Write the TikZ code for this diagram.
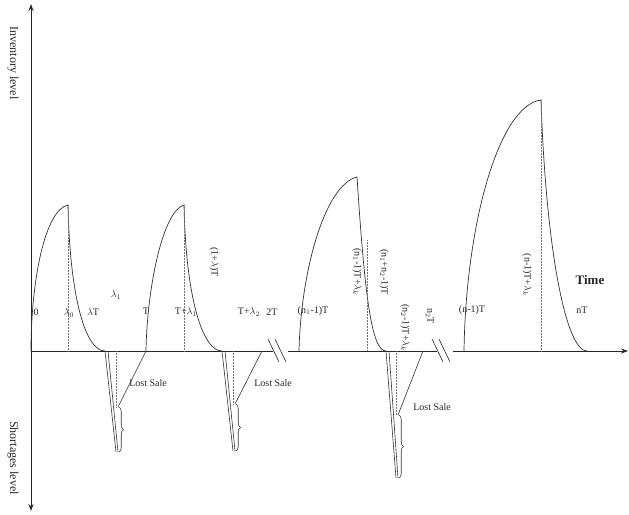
\documentclass[tikz,border=0pt]{standalone}
\usepackage{fontspec}
\setmainfont{Liberation Serif}
\usetikzlibrary{arrows.meta,decorations.pathreplacing}

\begin{document}
\begin{tikzpicture}[x=1pt,y=-1pt,
 every node/.style={font=\fontsize{10}{11}\selectfont,inner sep=0pt,text=black!85},
 curve/.style={black!80,line width=.7pt},
 guide/.style={black!55,densely dotted,line width=.5pt},
 spike/.style={black!80,line width=.6pt},
 brc/.style={black!80,line width=.6pt,decorate,decoration={brace,amplitude=4.5pt}},
 vlab/.style={rotate=-90},
 big/.style={font=\fontsize{12}{13}\selectfont},
 axis/.style={black!85,line width=.8pt}]
 \useasboundingbox (0,0) rectangle (629,514);
 % axes
 \coordinate (top) at (31,4);
 \coordinate (bot) at (31,511);
 \coordinate (o) at (31,351);
 \coordinate (g1a) at (273,351);
 \coordinate (g1b) at (288,351);
 \coordinate (g2a) at (437,351);
 \coordinate (g2b) at (453,351);
 \coordinate (xend) at (628,351);
 \draw[axis,line width=1pt,{Stealth[length=7pt,width=5pt]}-{Stealth[length=7pt,width=5pt]}] (bot) -- (top);
 \draw[axis] (o) -- (g1a) (g1b) -- (g2a);
 \draw[axis,-{Stealth[length=7pt,width=5pt]}] (g2b) -- (xend);
 % breaks
 \draw[axis,line width=.6pt] (268,339) -- (279,362) (275,339) -- (286,362);
 \draw[axis,line width=.6pt] (432,339) -- (443,362) (439,339) -- (450,362);
 % cycles
 \coordinate (s1) at (31,351);  \coordinate (p1) at (68,205);  \coordinate (e1) at (105,351);
 \coordinate (s2) at (146,351); \coordinate (p2) at (184,205); \coordinate (e2) at (222,351);
 \coordinate (s3) at (299,351); \coordinate (p3) at (357,177); \coordinate (e3) at (386,351);
 \coordinate (s4) at (464,351); \coordinate (p4) at (541,100); \coordinate (e4) at (587,351);
 \draw[curve] (s1) .. controls (31,280) and (45,210) .. (p1) .. controls (70,300) and (86,351) .. (e1);
 \draw[curve] (s2) .. controls (147,290) and (162,212) .. (p2) .. controls (186,300) and (203,351) .. (e2);
 \draw[curve] (s3) .. controls (301,270) and (325,185) .. (p3) .. controls (365,300) and (372,351) .. (e3);
 \draw[curve] (s4) .. controls (466,220) and (500,105) .. (p4) .. controls (546,250) and (566,351) .. (e4);
 \draw[guide] (p1) -- (68,351) (p2) -- (184,351) (367,240) -- (367,351) (p4) -- (541,351);
 % shortages
 \coordinate (b1) at (116,452); \coordinate (k1) at (118,407);
 \coordinate (b2) at (233,451); \coordinate (k2) at (235,404); \coordinate (q2) at (262,351);
 \coordinate (b3) at (396,478); \coordinate (k3) at (398,415); \coordinate (q3) at (423,351);
 \draw[spike] (e1) -- (b1) (108,351) -- (118,452);
 \draw[spike] (e2) -- (b2) (225,351) -- (235,451);
 \draw[spike] (e3) -- (b3) (389,351) -- (398,478);
 \draw[guide] (116,351) -- (116,407) (233,351) -- (233,404) (396,351) -- (396,415);
 \draw[spike] (s2) -- (k1) (q2) -- (k2) (q3) -- (k3);
 \draw[brc] (119,407) -- (119,452);
 \draw[brc] (236,404) -- (236,451);
 \draw[brc] (399,415) -- (399,478);
 \node (ls1) at (148,383) {Lost Sale};
 \node (ls2) at (273,383) {Lost Sale};
 \node (ls3) at (432,407) {Lost Sale};
 % time labels
 \node (l0) at (36,312) {0};
 \node (lam0) at (69,313) {$\lambda_0$};
 \node (lamT) at (93,312) {$\lambda$T};
 \node (lam1) at (116,295) {$\lambda_1$};
 \node (lT) at (146,311) {T};
 \node (lTl1) at (186,312) {T+$\lambda_1$};
 \node[vlab] (l1lT) at (214,262) {(1+$\lambda$)T};
 \node (lTl2) at (249,312) {T+$\lambda_2$};
 \node (l2T) at (272,312) {2T};
 \node (ln1T) at (313,311) {(n$_1$-1)T};
 \node[vlab] (ln1Tk) at (357,272) {(n$_1$-1)T+$\lambda_k$};
 \node[vlab] (ln12T) at (384,272) {(n$_1$+n$_2$-1)T};
 \node[vlab] (ln2Tk) at (405,328) {(n$_2$-1)T+$\lambda_k$};
 \node[vlab] (ln2T) at (430,316) {n$_2$T};
 \node (lnT1) at (472,310) {(n-1)T};
 \node[vlab] (lnTk) at (527,275) {(n-1)T+$\lambda_k$};
 \node (lnT) at (582,310) {nT};
 \node[font=\bfseries\fontsize{13}{14}\selectfont] (time) at (590,280) {Time};
 \node[big,vlab] (inv) at (13,63) {Inventory level};
 \node[big,vlab] (sho) at (13,458) {Shortages level};
\end{tikzpicture}
\end{document}
